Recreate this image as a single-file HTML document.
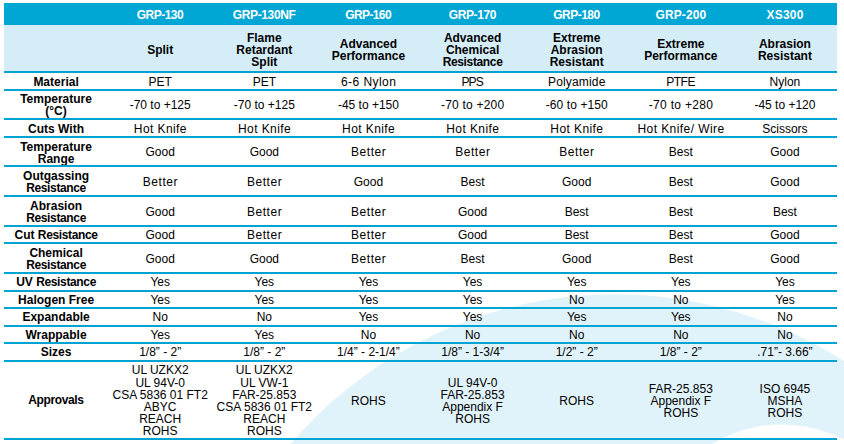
<!DOCTYPE html>
<html><head><meta charset="utf-8"><title>Comparison</title>
<style>
html,body{margin:0;padding:0;}
body{width:844px;height:444px;position:relative;overflow:hidden;background:#fff;font-family:"Liberation Sans",sans-serif;color:#000;}
#bg{position:absolute;left:0;top:0;width:844px;height:444px;}
.r{position:absolute;left:4px;width:833px;display:flex;}
.c{flex:0 0 104.125px;width:104.125px;display:flex;align-items:center;justify-content:center;text-align:center;font-size:12px;line-height:12px;white-space:nowrap;}
.c>span{display:inline-block;position:relative;}
.l{font-weight:bold;color:#000;}
.ln{position:absolute;left:4px;width:833px;height:2px;background:#00a3d2;}
.hd{background:#00a6d4;color:#fff;font-weight:bold;}
.hd .c{font-size:12px;}
.n{letter-spacing:-0.36px;}
.sh .c{line-height:12.2px;}
.ap .c{line-height:12.2px;}
.sh{background:#d5edf7;font-weight:bold;color:#000;}
</style></head><body>
<svg id="bg" width="844" height="444" viewBox="0 0 844 444"><circle cx="615" cy="720.8" r="426.5" fill="#e1f3fa"/><circle cx="781.8" cy="557.2" r="132.8" fill="#fff"/></svg>
<div class="r hd" style="top:3px;height:22px"><div class="c l"><span></span></div><div class="c"><span style="top:1px;letter-spacing:-0.5px;margin-right:0.5px;">GRP-130</span></div><div class="c"><span style="top:1px;letter-spacing:-0.38px;margin-right:0.38px;">GRP-130NF</span></div><div class="c"><span style="top:1px;letter-spacing:-0.62px;margin-right:0.62px;">GRP-160</span></div><div class="c"><span style="top:1px;letter-spacing:-0.42px;margin-right:0.42px;">GRP-170</span></div><div class="c"><span style="top:1px;letter-spacing:-0.54px;margin-right:0.54px;">GRP-180</span></div><div class="c"><span style="top:1px;letter-spacing:0.12px;margin-right:-0.12px;">GRP-200</span></div><div class="c"><span style="top:1px;letter-spacing:0.19px;margin-right:-0.19px;">XS300</span></div></div>
<div class="r sh" style="top:25px;height:46px"><div class="c l"><span></span></div><div class="c"><span style="top:2px;">Split</span></div><div class="c"><span style="top:2px;">Flame<br>Retardant<br>Split</span></div><div class="c"><span style="top:2px;">Advanced<br>Performance</span></div><div class="c"><span style="top:2px;">Advanced<br>Chemical<br><span class="n">Resistance</span></span></div><div class="c"><span style="top:2px;">Extreme<br>Abrasion<br>Resistant</span></div><div class="c"><span style="top:2px;">Extreme<br>Performance</span></div><div class="c"><span style="top:2px;">Abrasion<br>Resistant</span></div></div>
<div class="r " style="top:73px;height:16px"><div class="c l"><span style="top:1px;">Material</span></div><div class="c"><span style="top:1px;">PET</span></div><div class="c"><span style="top:1px;">PET</span></div><div class="c"><span style="top:1px;letter-spacing:0.44px;margin-right:-0.44px;">6-6 Nylon</span></div><div class="c"><span style="top:1px;letter-spacing:-0.88px;margin-right:0.88px;">PPS</span></div><div class="c"><span style="top:1px;letter-spacing:0.16px;margin-right:-0.16px;">Polyamide</span></div><div class="c"><span style="top:1px;letter-spacing:-0.5px;margin-right:0.5px;">PTFE</span></div><div class="c"><span style="top:1px;">Nylon</span></div></div>
<div class="r " style="top:91px;height:27px"><div class="c l"><span>Temperature<br>(°C)</span></div><div class="c"><span>-70 to +125</span></div><div class="c"><span>-70 to +125</span></div><div class="c"><span>-45 to +150</span></div><div class="c"><span style="letter-spacing:0.22px;margin-right:-0.22px;">-70 to +200</span></div><div class="c"><span style="letter-spacing:0.1px;margin-right:-0.1px;">-60 to +150</span></div><div class="c"><span style="letter-spacing:0.3px;margin-right:-0.3px;">-70 to +280</span></div><div class="c"><span>-45 to +120</span></div></div>
<div class="r " style="top:120px;height:16px"><div class="c l"><span style="top:1px;">Cuts With</span></div><div class="c"><span style="top:1px;letter-spacing:0.41px;margin-right:-0.41px;">Hot Knife</span></div><div class="c"><span style="top:1px;letter-spacing:0.41px;margin-right:-0.41px;">Hot Knife</span></div><div class="c"><span style="top:1px;letter-spacing:0.41px;margin-right:-0.41px;">Hot Knife</span></div><div class="c"><span style="top:1px;letter-spacing:0.41px;margin-right:-0.41px;">Hot Knife</span></div><div class="c"><span style="top:1px;letter-spacing:0.41px;margin-right:-0.41px;">Hot Knife</span></div><div class="c"><span style="top:1px;letter-spacing:0.43px;margin-right:-0.43px;">Hot Knife/ Wire</span></div><div class="c"><span style="top:1px;">Scissors</span></div></div>
<div class="r " style="top:138px;height:27px"><div class="c l"><span style="top:1px;">Temperature<br>Range</span></div><div class="c"><span>Good</span></div><div class="c"><span>Good</span></div><div class="c"><span style="letter-spacing:0.55px;margin-right:-0.55px;">Better</span></div><div class="c"><span style="letter-spacing:0.55px;margin-right:-0.55px;">Better</span></div><div class="c"><span style="letter-spacing:0.55px;margin-right:-0.55px;">Better</span></div><div class="c"><span>Best</span></div><div class="c"><span>Good</span></div></div>
<div class="r " style="top:167px;height:28px"><div class="c l"><span style="top:1px;">Outgassing<br><span class="n">Resistance</span></span></div><div class="c"><span style="top:1px;letter-spacing:0.55px;margin-right:-0.55px;">Better</span></div><div class="c"><span style="top:1px;letter-spacing:0.55px;margin-right:-0.55px;">Better</span></div><div class="c"><span style="top:1px;">Good</span></div><div class="c"><span style="top:1px;">Best</span></div><div class="c"><span style="top:1px;">Good</span></div><div class="c"><span style="top:1px;">Best</span></div><div class="c"><span style="top:1px;">Good</span></div></div>
<div class="r " style="top:197px;height:28px"><div class="c l"><span style="top:1px;">Abrasion<br><span class="n">Resistance</span></span></div><div class="c"><span style="top:1px;">Good</span></div><div class="c"><span style="top:1px;letter-spacing:0.55px;margin-right:-0.55px;">Better</span></div><div class="c"><span style="top:1px;letter-spacing:0.55px;margin-right:-0.55px;">Better</span></div><div class="c"><span style="top:1px;">Good</span></div><div class="c"><span style="top:1px;">Best</span></div><div class="c"><span style="top:1px;">Best</span></div><div class="c"><span style="top:1px;">Best</span></div></div>
<div class="r " style="top:227px;height:15px"><div class="c l"><span>Cut <span class="n">Resistance</span></span></div><div class="c"><span>Good</span></div><div class="c"><span style="letter-spacing:0.55px;margin-right:-0.55px;">Better</span></div><div class="c"><span style="letter-spacing:0.55px;margin-right:-0.55px;">Better</span></div><div class="c"><span>Good</span></div><div class="c"><span>Best</span></div><div class="c"><span>Best</span></div><div class="c"><span>Good</span></div></div>
<div class="r " style="top:244px;height:28px"><div class="c l"><span style="top:1px;">Chemical<br><span class="n">Resistance</span></span></div><div class="c"><span style="top:1px;">Good</span></div><div class="c"><span style="top:1px;">Good</span></div><div class="c"><span style="top:1px;letter-spacing:0.55px;margin-right:-0.55px;">Better</span></div><div class="c"><span style="top:1px;">Best</span></div><div class="c"><span style="top:1px;">Good</span></div><div class="c"><span style="top:1px;">Best</span></div><div class="c"><span style="top:1px;">Good</span></div></div>
<div class="r " style="top:274px;height:16px"><div class="c l"><span>UV <span class="n">Resistance</span></span></div><div class="c"><span>Yes</span></div><div class="c"><span>Yes</span></div><div class="c"><span>Yes</span></div><div class="c"><span>Yes</span></div><div class="c"><span>Yes</span></div><div class="c"><span>Yes</span></div><div class="c"><span>Yes</span></div></div>
<div class="r " style="top:292px;height:15px"><div class="c l"><span>Halogen Free</span></div><div class="c"><span>Yes</span></div><div class="c"><span>Yes</span></div><div class="c"><span>Yes</span></div><div class="c"><span>Yes</span></div><div class="c"><span>No</span></div><div class="c"><span>No</span></div><div class="c"><span>Yes</span></div></div>
<div class="r " style="top:309px;height:16px"><div class="c l"><span>Expandable</span></div><div class="c"><span>No</span></div><div class="c"><span>No</span></div><div class="c"><span>Yes</span></div><div class="c"><span>Yes</span></div><div class="c"><span>Yes</span></div><div class="c"><span>Yes</span></div><div class="c"><span>No</span></div></div>
<div class="r " style="top:327px;height:15px"><div class="c l"><span>Wrappable</span></div><div class="c"><span>Yes</span></div><div class="c"><span>Yes</span></div><div class="c"><span>No</span></div><div class="c"><span>No</span></div><div class="c"><span>No</span></div><div class="c"><span>No</span></div><div class="c"><span>No</span></div></div>
<div class="r " style="top:344px;height:16px"><div class="c l"><span>Sizes</span></div><div class="c"><span>1/8” - 2”</span></div><div class="c"><span>1/8” - 2”</span></div><div class="c"><span>1/4” - 2-1/4”</span></div><div class="c"><span>1/8” - 1-3/4”</span></div><div class="c"><span>1/2” - 2”</span></div><div class="c"><span>1/8” - 2”</span></div><div class="c"><span>.71”- 3.66”</span></div></div>
<div class="r ap" style="top:362px;height:76px"><div class="c l"><span style="letter-spacing:-0.38px;margin-right:0.38px;">Approvals</span></div><div class="c"><span style="top:1px;">UL UZKX2<br>UL 94V-0<br>CSA 5836 01 FT2<br>ABYC<br>REACH<br>ROHS</span></div><div class="c"><span style="top:1px;">UL UZKX2<br>UL VW-1<br>FAR-25.853<br>CSA 5836 01 FT2<br>REACH<br>ROHS</span></div><div class="c"><span style="top:1px;">ROHS</span></div><div class="c"><span style="top:1px;">UL 94V-0<br>FAR-25.853<br>Appendix F<br>ROHS</span></div><div class="c"><span style="top:1px;">ROHS</span></div><div class="c"><span style="top:1px;">FAR-25.853<br>Appendix F<br>ROHS</span></div><div class="c"><span style="top:1px;">ISO 6945<br>MSHA<br>ROHS</span></div></div>
<div class="ln" style="top:71px"></div>
<div class="ln" style="top:89px"></div>
<div class="ln" style="top:118px"></div>
<div class="ln" style="top:136px"></div>
<div class="ln" style="top:165px"></div>
<div class="ln" style="top:195px"></div>
<div class="ln" style="top:225px"></div>
<div class="ln" style="top:242px"></div>
<div class="ln" style="top:272px"></div>
<div class="ln" style="top:290px"></div>
<div class="ln" style="top:307px"></div>
<div class="ln" style="top:325px"></div>
<div class="ln" style="top:342px"></div>
<div class="ln" style="top:360px"></div>
<div class="ln" style="top:438px"></div>
</body></html>
